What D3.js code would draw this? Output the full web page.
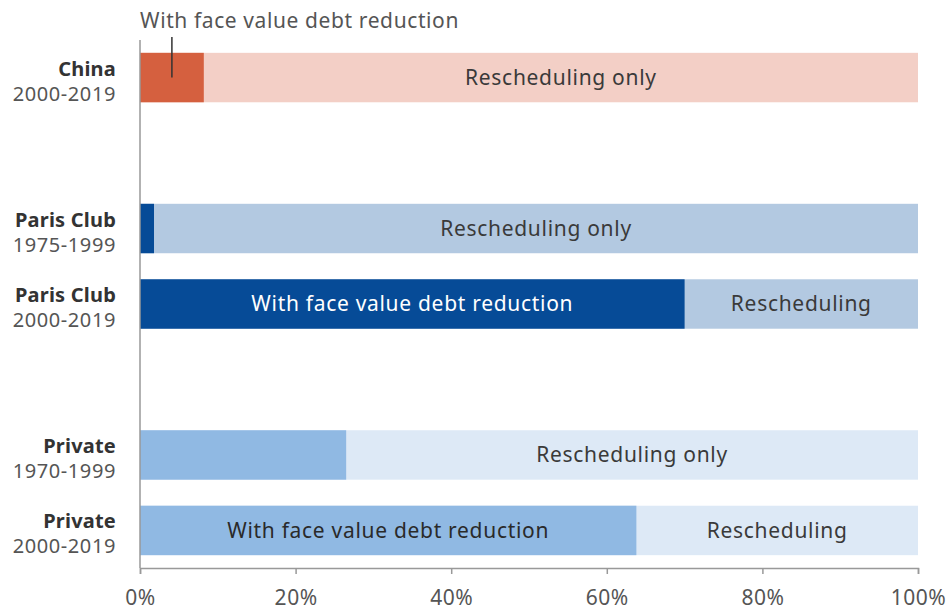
<!DOCTYPE html>
<html>
<head>
<meta charset="utf-8">
<script src="https://cdn.jsdelivr.net/npm/d3@7"></script>
<style>
  body { margin: 0; background: #fff; }
  svg { font-family: "Noto Sans", sans-serif; }
</style>
</head>
<body>
<svg id="chart" width="948" height="610"></svg>
<script>
// one row per bar, in order from top to bottom
const lenders = ["China", "Paris Club", "Paris Club", "Private", "Private"];
const periods = ["2000-2019", "1975-1999", "2000-2019", "1970-1999", "2000-2019"];
// share (%) of restructurings with face value debt reduction
const withReduction = [8.2, 1.8, 70, 26.5, 63.8];
const reductionLabels = ["", "", "With face value debt reduction", "", "With face value debt reduction"];
const reschedulingLabels = ["Rescheduling only", "Rescheduling only", "Rescheduling", "Rescheduling only", "Rescheduling"];
const annotationText = "With face value debt reduction";
const tickValues = [0, 20, 40, 60, 80, 100];

const colors = {
  China: { dark: "#d5603f", light: "#f3cfc6", text: "#3a3a3a", darkText: "#fff" },
  "Paris Club": { dark: "#064b97", light: "#b3c9e1", text: "#3a3a3a", darkText: "#fff" },
  Private: { dark: "#90b9e3", light: "#dde9f6", text: "#3a3a3a", darkText: "#2a2a2a" },
};

const svg = d3.select("#chart");
const margin = { top: 40, right: 30, bottom: 42, left: 140 };
const width = +svg.attr("width");
const height = +svg.attr("height");

const rows = lenders.map((lender, i) => ({
  key: `${lender}|${periods[i]}`,
  lender,
  period: periods[i],
  value: withReduction[i],
  reductionLabel: reductionLabels[i],
  reschedulingLabel: reschedulingLabels[i],
}));

// empty slot between lender groups
const slots = [];
rows.forEach((d, i) => {
  if (i > 0 && d.lender !== rows[i - 1].lender) slots.push(`gap${i}`);
  slots.push(d.key);
});

const x = d3.scaleLinear().domain([0, 100]).range([margin.left, width - margin.right]);
const y = d3
  .scaleBand()
  .domain(slots)
  .range([margin.top, height - margin.bottom])
  .paddingInner(0.345)
  .paddingOuter(0.17);

const barLayer = svg.append("g");

const row = barLayer
  .selectAll("g")
  .data(rows)
  .join("g")
  .attr("transform", (d) => `translate(0,${y(d.key)})`);

row
  .append("rect")
  .attr("x", x(0))
  .attr("width", x(100) - x(0))
  .attr("height", y.bandwidth())
  .attr("fill", (d) => colors[d.lender].light);

row
  .append("rect")
  .attr("x", x(0))
  .attr("width", (d) => x(d.value) - x(0))
  .attr("height", y.bandwidth())
  .attr("fill", (d) => colors[d.lender].dark);

row
  .filter((d) => d.reductionLabel)
  .append("text")
  .attr("x", (d) => (x(0) + x(d.value)) / 2)
  .attr("y", y.bandwidth() / 2)
  .attr("dy", "0.35em")
  .attr("text-anchor", "middle")
  .attr("font-size", 21)
  .attr("letter-spacing", 0.7)
  .attr("fill", (d) => colors[d.lender].darkText)
  .text((d) => d.reductionLabel);

row
  .append("text")
  .attr("x", (d) => (x(d.value) + x(100)) / 2)
  .attr("y", y.bandwidth() / 2)
  .attr("dy", "0.35em")
  .attr("text-anchor", "middle")
  .attr("font-size", 21)
  .attr("letter-spacing", 0.7)
  .attr("fill", (d) => colors[d.lender].text)
  .text((d) => d.reschedulingLabel);

// category labels
const labels = row.append("text").attr("text-anchor", "end").attr("font-size", 20);
labels
  .append("tspan")
  .attr("x", margin.left - 24)
  .attr("y", y.bandwidth() / 2 - 2)
  .attr("font-weight", "bold")
  .attr("letter-spacing", 0.2)
  .attr("fill", "#333")
  .text((d) => d.lender);
labels
  .append("tspan")
  .attr("x", margin.left - 24)
  .attr("y", y.bandwidth() / 2 + 23)
  .attr("letter-spacing", 0.6)
  .attr("fill", "#555")
  .text((d) => d.period);

// callout for China's small dark segment
const china = rows[0];
svg
  .append("line")
  .attr("x1", x(china.value / 2))
  .attr("x2", x(china.value / 2))
  .attr("y1", 37)
  .attr("y2", y(china.key) + y.bandwidth() / 2)
  .attr("stroke", "#333")
  .attr("stroke-width", 1.5);
svg
  .append("text")
  .attr("x", x(0))
  .attr("y", 28)
  .attr("font-size", 21)
  .attr("letter-spacing", 0.6)
  .attr("fill", "#555")
  .text(annotationText);

// axes
svg
  .append("line")
  .attr("x1", x(0))
  .attr("x2", x(0))
  .attr("y1", margin.top)
  .attr("y2", height - margin.bottom)
  .attr("stroke", "#999")
  .attr("stroke-width", 1.5);

const xAxis = svg
  .append("g")
  .attr("transform", `translate(0,${height - margin.bottom})`)
  .call(
    d3
      .axisBottom(x)
      .tickValues(tickValues)
      .tickFormat((d) => `${d}%`)
      .tickSize(6)
      .tickPadding(16)
  );

xAxis.select(".domain").attr("stroke", "#999").attr("stroke-width", 1.5);
xAxis.selectAll(".tick line").attr("stroke", "#999").attr("stroke-width", 1.5);
xAxis
  .selectAll(".tick text")
  .attr("font-family", "Noto Sans, sans-serif")
  .attr("font-size", 21)
  .attr("letter-spacing", 0.5)
  .attr("fill", "#555");
</script>
</body>
</html>
